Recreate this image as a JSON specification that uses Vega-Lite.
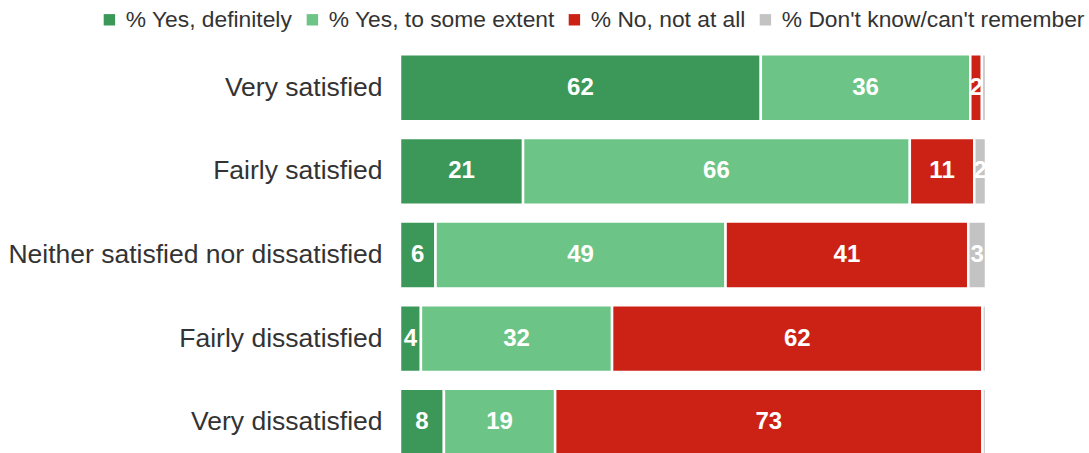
{
  "$schema": "https://vega.github.io/schema/vega-lite/v6.json",
  "autosize": "none",
  "width": 586,
  "height": 418,
  "padding": {"left": 400, "top": 46, "right": 103, "bottom": 0},
  "background": "white",
  "config": {
    "font": "Liberation Sans",
    "view": {"stroke": null}
  },
  "data": {
    "values": [
      {"group": "Very satisfied", "answer": "% Yes, definitely", "k": 1, "value": 62},
      {"group": "Very satisfied", "answer": "% Yes, to some extent", "k": 2, "value": 36},
      {"group": "Very satisfied", "answer": "% No, not at all", "k": 3, "value": 2},
      {"group": "Very satisfied", "answer": "% Don't know/can't remember", "k": 4, "value": 0.7},
      {"group": "Fairly satisfied", "answer": "% Yes, definitely", "k": 1, "value": 21},
      {"group": "Fairly satisfied", "answer": "% Yes, to some extent", "k": 2, "value": 66},
      {"group": "Fairly satisfied", "answer": "% No, not at all", "k": 3, "value": 11},
      {"group": "Fairly satisfied", "answer": "% Don't know/can't remember", "k": 4, "value": 2},
      {"group": "Neither satisfied nor dissatisfied", "answer": "% Yes, definitely", "k": 1, "value": 6},
      {"group": "Neither satisfied nor dissatisfied", "answer": "% Yes, to some extent", "k": 2, "value": 49},
      {"group": "Neither satisfied nor dissatisfied", "answer": "% No, not at all", "k": 3, "value": 41},
      {"group": "Neither satisfied nor dissatisfied", "answer": "% Don't know/can't remember", "k": 4, "value": 3},
      {"group": "Fairly dissatisfied", "answer": "% Yes, definitely", "k": 1, "value": 3.5},
      {"group": "Fairly dissatisfied", "answer": "% Yes, to some extent", "k": 2, "value": 32},
      {"group": "Fairly dissatisfied", "answer": "% No, not at all", "k": 3, "value": 62},
      {"group": "Fairly dissatisfied", "answer": "% Don't know/can't remember", "k": 4, "value": 0.6},
      {"group": "Very dissatisfied", "answer": "% Yes, definitely", "k": 1, "value": 7.5},
      {"group": "Very dissatisfied", "answer": "% Yes, to some extent", "k": 2, "value": 19},
      {"group": "Very dissatisfied", "answer": "% No, not at all", "k": 3, "value": 73},
      {"group": "Very dissatisfied", "answer": "% Don't know/can't remember", "k": 4, "value": 0.6}
    ]
  },
  "transform": [
    {"stack": "value", "groupby": ["group"], "sort": [{"field": "k", "order": "ascending"}], "as": ["x0", "x1"], "offset": "normalize"},
    {"calculate": "(datum.x0 + datum.x1) / 2", "as": "mid"}
  ],
  "encoding": {
    "y": {
      "field": "group",
      "type": "nominal",
      "sort": ["Very satisfied", "Fairly satisfied", "Neither satisfied nor dissatisfied", "Fairly dissatisfied", "Very dissatisfied"],
      "scale": {"paddingInner": 0.2, "paddingOuter": 0.1},
      "axis": {
        "title": null,
        "ticks": false,
        "domain": false,
        "labelFontSize": 26.5,
        "labelColor": "#333333",
        "labelPadding": 18,
        "labelLimit": 400
      }
    }
  },
  "layer": [
    {
      "mark": {"type": "bar", "stroke": "white", "strokeWidth": 2.5},
      "encoding": {
        "x": {"field": "x0", "type": "quantitative", "scale": {"domain": [0, 1], "nice": false}, "axis": null},
        "x2": {"field": "x1"},
        "color": {
          "field": "answer",
          "type": "nominal",
          "scale": {
            "domain": ["% Yes, definitely", "% Yes, to some extent", "% No, not at all", "% Don't know/can't remember"],
            "range": ["#3b9858", "#6cc586", "#cc2216", "#c3c3c3"]
          },
          "legend": {
            "title": null,
            "orient": "none",
            "direction": "horizontal",
            "legendX": -302,
            "legendY": -38,
            "padding": 0,
            "offset": 0,
            "symbolType": "square",
            "symbolSize": 130,
            "symbolStrokeWidth": 0,
            "symbolOffset": 0,
            "labelFontSize": 22.8,
            "labelColor": "#333333",
            "labelOffset": 5,
            "columnPadding": 8,
            "labelLimit": 400
          }
        }
      }
    },
    {
      "transform": [{"filter": "datum.value >= 1.5"}],
      "mark": {"type": "text", "color": "white", "fontWeight": "bold", "fontSize": 24, "baseline": "middle", "align": "center"},
      "encoding": {
        "x": {"field": "mid", "type": "quantitative"},
        "text": {"field": "value", "type": "quantitative", "format": ".0f"}
      }
    }
  ]
}
